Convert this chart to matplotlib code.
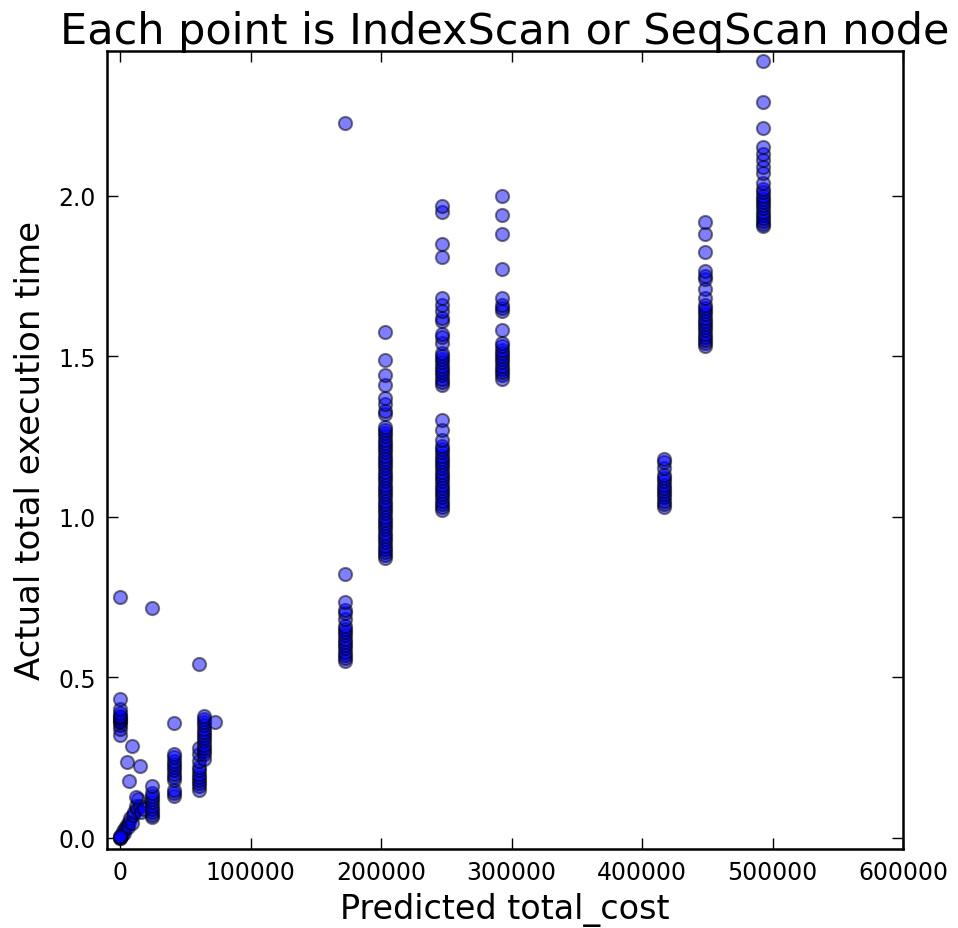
import numpy as np
import matplotlib
matplotlib.use("Agg")
import matplotlib.pyplot as plt

# predicted cost of each column of points, and the measured times in that column
col_cost = [0, 24600, 41000, 60800, 64600, 73000, 172300, 203000,
            247000, 293000, 417000, 448000, 493000]
col_time = [
    [0.0, 0.0, 0.002, 0.005, 0.32, 0.34, 0.35, 0.36, 0.365, 0.37, 0.375,
     0.38, 0.39, 0.40, 0.433, 0.75],
    [0.065, 0.07, 0.08, 0.09, 0.10, 0.11, 0.12, 0.13, 0.14, 0.16, 0.716],
    [0.13, 0.14, 0.15, 0.18, 0.19, 0.20, 0.21, 0.22, 0.23, 0.24, 0.25,
     0.26, 0.358],
    [0.15, 0.16, 0.17, 0.18, 0.19, 0.20, 0.21, 0.22, 0.24, 0.26, 0.28, 0.542],
    [0.246, 0.26, 0.27, 0.28, 0.29, 0.30, 0.31, 0.32, 0.33, 0.34, 0.35,
     0.36, 0.37, 0.38],
    [0.36],
    [0.55, 0.56, 0.57, 0.58, 0.59, 0.60, 0.61, 0.62, 0.63, 0.64, 0.65,
     0.66, 0.68, 0.70, 0.71, 0.735, 0.822, 2.227],
    [0.87, 0.88, 0.89, 0.90, 0.91, 0.92, 0.93, 0.94, 0.95, 0.96, 0.97,
     0.98, 0.99, 1.00, 1.01, 1.02, 1.03, 1.04, 1.05, 1.06, 1.07, 1.08,
     1.09, 1.10, 1.11, 1.12, 1.13, 1.14, 1.15, 1.16, 1.17, 1.18, 1.19,
     1.20, 1.21, 1.22, 1.23, 1.24, 1.25, 1.26, 1.27, 1.28, 1.32, 1.33,
     1.35, 1.368, 1.409, 1.442, 1.487, 1.576],
    [1.02, 1.03, 1.04, 1.05, 1.06, 1.07, 1.08, 1.09, 1.10, 1.11, 1.12,
     1.13, 1.14, 1.15, 1.16, 1.17, 1.18, 1.19, 1.20, 1.21, 1.22, 1.24,
     1.27, 1.30, 1.41, 1.42, 1.43, 1.44, 1.45, 1.46, 1.47, 1.48, 1.49,
     1.50, 1.51, 1.54, 1.56, 1.57, 1.61, 1.62, 1.64, 1.66, 1.68, 1.81,
     1.85, 1.948, 1.967],
    [1.43, 1.44, 1.45, 1.46, 1.47, 1.48, 1.49, 1.50, 1.51, 1.52, 1.53,
     1.54, 1.58, 1.64, 1.65, 1.66, 1.68, 1.77, 1.88, 1.94, 2.0],
    [1.03, 1.04, 1.05, 1.06, 1.07, 1.08, 1.09, 1.10, 1.11, 1.12, 1.13,
     1.15, 1.17, 1.18],
    [1.53, 1.54, 1.55, 1.56, 1.57, 1.58, 1.59, 1.60, 1.61, 1.62, 1.63,
     1.64, 1.65, 1.66, 1.68, 1.71, 1.74, 1.75, 1.765, 1.825, 1.88, 1.917],
    [1.905, 1.91, 1.92, 1.93, 1.94, 1.95, 1.96, 1.97, 1.98, 1.99, 2.00,
     2.01, 2.02, 2.04, 2.07, 2.09, 2.11, 2.13, 2.15, 2.21, 2.29, 2.42],
]

# small nodes near the origin that don't sit on a column
ramp_cost = [1500, 2500, 3000, 4000, 5000, 6000, 7000, 8000, 9000, 10000,
             11000, 12000, 13000, 14000, 15000, 16000, 18000,
             5500, 7000, 9000, 15400, 12300]
ramp_time = [0.01, 0.02, 0.015, 0.03, 0.04, 0.035, 0.05, 0.06, 0.045, 0.07,
             0.08, 0.10, 0.09, 0.12, 0.10, 0.08, 0.09,
             0.237, 0.178, 0.287, 0.225, 0.128]

cost = list(ramp_cost)
time = list(ramp_time)
for c, ts in zip(col_cost, col_time):
    cost += [c] * len(ts)
    time += ts

fig = plt.figure(figsize=(9.58, 9.29), dpi=100)
ax = fig.add_axes([107 / 958, 79 / 929, 796 / 958, 798 / 929])

ax.scatter(cost, time, s=90, c='blue', alpha=0.5, edgecolors='black',
           linewidths=1.5, zorder=3)

ax.set_xlim(-10000, 600000)
ax.set_ylim(-0.035, 2.45)
ax.set_xticks([0, 100000, 200000, 300000, 400000, 500000, 600000])
ax.set_yticks([0.0, 0.5, 1.0, 1.5, 2.0])
ax.set_yticklabels(['0.0', '0.5', '1.0', '1.5', '2.0'])
ax.tick_params(direction='in', length=8, width=1, top=True, right=True,
               labelsize=17, pad=8)
for sp in ax.spines.values():
    sp.set_linewidth(1.8)

ax.set_title('Each point is IndexScan or SeqScan node', fontsize=31, pad=6)
ax.set_xlabel('Predicted total_cost', fontsize=24, labelpad=6)
ax.set_ylabel('Actual total execution time', fontsize=24.5, labelpad=8)

fig.savefig('out.png', dpi=100, facecolor='white')
